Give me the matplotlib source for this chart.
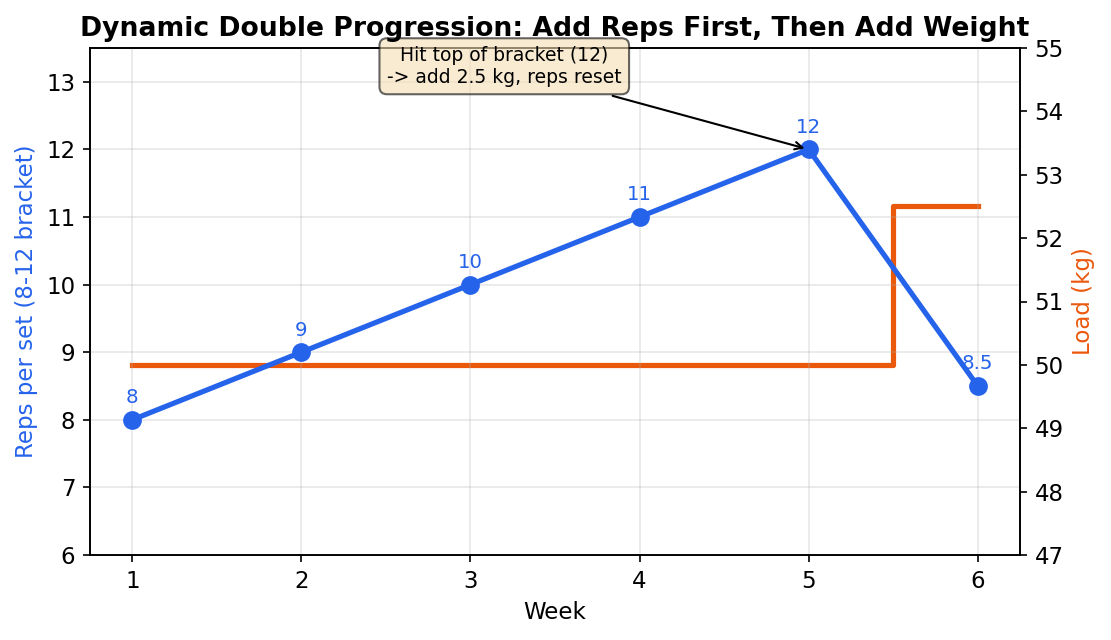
import matplotlib
matplotlib.use("Agg")
import matplotlib.pyplot as plt

weeks = [1, 2, 3, 4, 5, 6]
reps = [8, 9, 10, 11, 12, 8.5]
load_kg = [50, 50, 50, 50, 50, 52.5]

blue = "#2563eb"
orange = "#ea580c"

plt.rcParams["font.size"] = 11

W, H = 1111, 640
fig, ax = plt.subplots(figsize=(W / 150, H / 150), dpi=150)
ax2 = ax.twinx()

ax.plot(weeks, reps, color=blue, lw=2.5, marker="o", markersize=8)
for w, r in zip(weeks, reps):
    label = f"{r:g}"
    ax.annotate(label, (w, r), textcoords="offset points", xytext=(0, 8),
                ha="center", fontsize=9.5, color=blue)

ax2.step(weeks, load_kg, where="mid", color=orange, lw=2.5)

ax.set_ylim(6, 13.5)
ax2.set_ylim(47, 55)
ax.set_xlim(0.75, 6.25)
ax.set_xticks(weeks)

ax.set_xlabel("Week")
ax.set_ylabel("Reps per set (8-12 bracket)", color=blue)
ax2.set_ylabel("Load (kg)", color=orange)
ax.grid(True, alpha=0.3)

ax.set_zorder(ax2.get_zorder() + 1)
ax.patch.set_visible(False)

ax.annotate("Hit top of bracket (12)\n-> add 2.5 kg, reps reset",
            xy=(5, 12), xytext=(3.2, 13.23), ha="center", va="center",
            fontsize=9,
            bbox=dict(boxstyle="round,pad=0.4", fc="wheat", ec="black", alpha=0.6),
            arrowprops=dict(arrowstyle="->", color="black", lw=1),
            annotation_clip=False)

ax.set_title("Dynamic Double Progression: Add Reps First, Then Add Weight",
             fontweight="bold", fontsize=12.8)

fig.subplots_adjust(left=90 / W, right=1020 / W, top=1 - 48 / H, bottom=1 - 555 / H)
fig.savefig("out.png", dpi=150)
